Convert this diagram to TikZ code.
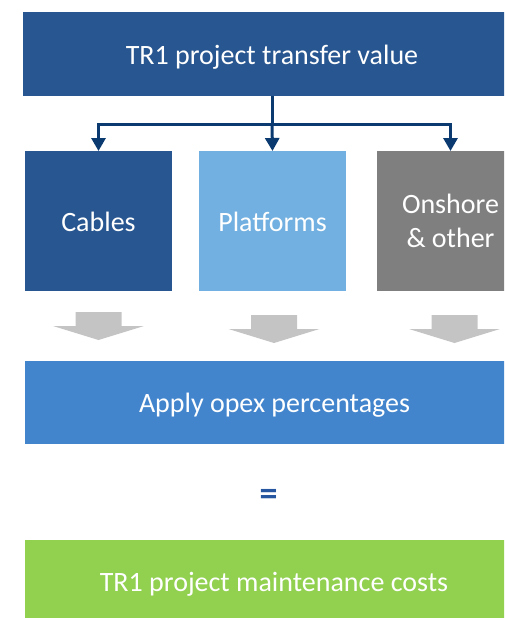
\documentclass[tikz,border=0pt]{standalone}
\usepackage{fontspec}
\setmainfont{Carlito}
\usetikzlibrary{arrows.meta}

\definecolor{navybox}{HTML}{285690}
\definecolor{skybox}{HTML}{71B0E0}
\definecolor{greybox}{HTML}{7F7F7F}
\definecolor{midblue}{HTML}{4285CD}
\definecolor{leafgreen}{HTML}{92D050}
\definecolor{connblue}{HTML}{0A3A70}
\definecolor{eqblue}{HTML}{2756A0}
\definecolor{paleflow}{HTML}{C4C4C4}

\tikzset{
  block/.style={rectangle, fill=#1, draw=none, inner sep=0pt, outer sep=0pt,
    text=white, font=\fontsize{28}{34}\selectfont, align=center},
  blocktext/.style={text height=20pt, text depth=0pt},
  branch/.style={draw=connblue, line width=3pt},
  branchtip/.style={branch, -{Triangle[width=14pt,length=13pt]}},
  downarrow/.pic={
    \fill[paleflow] (-23,0) -- (23,0) -- (23,14) -- (45.5,14) -- (0,28)
      -- (-45.5,14) -- (-23,14) -- cycle;
  }
}

\begin{document}
\begin{tikzpicture}[x=1pt, y=-1pt]
  \useasboundingbox (0,0) rectangle (504,618);
  \clip (0,0) rectangle (504,618);

  % source value
  \node[block=navybox, blocktext, minimum width=498pt, minimum height=84pt]
    (top) at (272,54) {TR1 project transfer value};

  % asset categories
  \node[block=navybox, blocktext, minimum width=147pt, minimum height=140pt]
    (cables) at (98.5,221) {Cables};
  \node[block=skybox, blocktext, minimum width=147pt, minimum height=140pt]
    (plat) at (272.5,221) {Platforms};
  \node[block=greybox, minimum width=147pt, minimum height=140pt]
    (onshore) at (450.5,221) {Onshore\\\& other};

  % branching connector
  \coordinate (split) at (272,124);
  \draw[branch] (top.south) -- (split);
  \draw[branchtip] (split) -| (cables.north);
  \draw[branchtip] (split) -- (plat.north);
  \draw[branchtip] (split) -| (onshore.north);

  % flow arrows
  \pic at (98.5,312) {downarrow};
  \pic at (274,315) {downarrow};
  \pic at (454.5,315) {downarrow};

  % opex step
  \node[block=midblue, blocktext, minimum width=499pt, minimum height=83pt]
    (opex) at (274.5,402.5) {Apply opex percentages};

  \node[text=eqblue, font=\fontsize{36}{40}\selectfont\bfseries, inner sep=0pt]
    (equals) at (268.7,497) {=};

  % result
  \node[block=leafgreen, blocktext, minimum width=498pt, minimum height=83pt]
    (result) at (274,581.5) {TR1 project maintenance costs};
\end{tikzpicture}
\end{document}
